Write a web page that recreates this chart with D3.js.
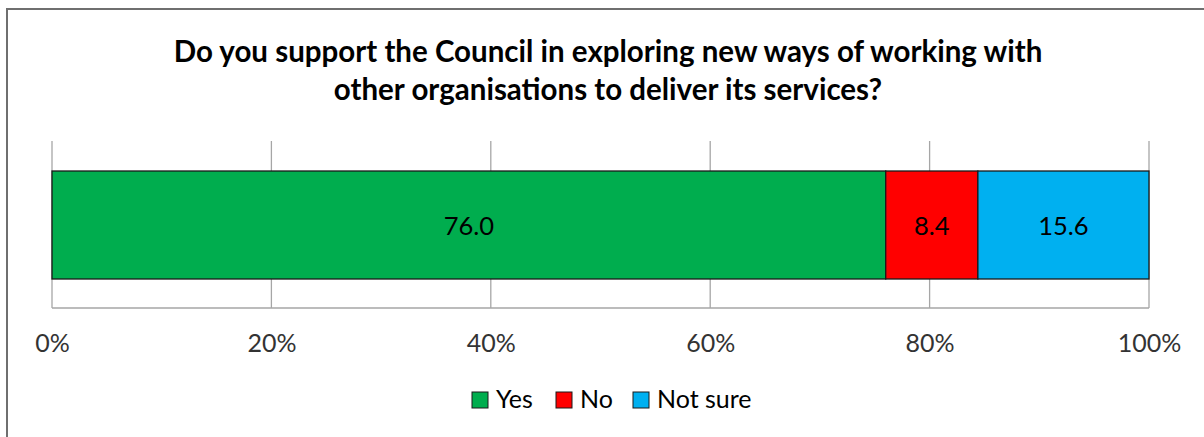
<!DOCTYPE html>
<html><head><meta charset="utf-8">
<script src="https://cdn.jsdelivr.net/npm/d3@7"></script>
<style>html,body{margin:0;padding:0;background:#fff;}svg{display:block;font-family:Lato,"Open Sans",sans-serif;}</style>
</head><body>
<svg id="c" width="1204" height="437"></svg>
<script>
const categories = ["Yes", "No", "Not sure"];
const values = [76.0, 8.4, 15.6];
const colors = ["#00AD4E", "#FF0000", "#00B0F0"];
const tickValues = [0, 20, 40, 60, 80, 100];
const titleLines = ["Do you support the Council in exploring new ways of working with", "other organisations to deliver its services?"];

const svg = d3.select("#c");
// chart border
svg.append("rect").attr("x", 7).attr("y", 9).attr("width", 1210).attr("height", 440)
  .attr("fill", "#fff").attr("stroke", "#6f6f6f").attr("stroke-width", 2);

svg.append("g").selectAll("text").data(titleLines).join("text")
  .attr("x", 608).attr("y", (d, i) => 62 + i * 38)
  .attr("text-anchor", "middle").attr("font-weight", "bold").attr("font-size", 29.5)
  .attr("fill", "#000").text(d => d);

const x = d3.scaleLinear().domain([0, 100]).range([52, 1149]);
const plotTop = 141, plotBottom = 308;

// gridlines
svg.append("g").selectAll("line").data(tickValues).join("line")
  .attr("x1", d => x(d)).attr("x2", d => x(d)).attr("y1", plotTop).attr("y2", plotBottom)
  .attr("stroke", "#a6a6a6").attr("stroke-width", 1.3);
svg.append("line").attr("x1", x(0)).attr("x2", x(100)).attr("y1", plotBottom).attr("y2", plotBottom)
  .attr("stroke", "#a6a6a6").attr("stroke-width", 1.3);

// stacked segments
let acc = 0;
const segs = values.map((v, i) => { const s = {cat: categories[i], v, x0: acc, x1: acc + v, color: colors[i]}; acc += v; return s; });
svg.append("g").selectAll("rect").data(segs).join("rect")
  .attr("x", d => x(d.x0)).attr("width", d => x(d.x1) - x(d.x0))
  .attr("y", 171).attr("height", 108)
  .attr("fill", d => d.color).attr("stroke", "#1a1a1a").attr("stroke-width", 1.3);
svg.append("g").selectAll("text").data(segs).join("text")
  .attr("x", d => (x(d.x0) + x(d.x1)) / 2).attr("y", 235)
  .attr("text-anchor", "middle").attr("font-size", 25.5).attr("fill", "#000")
  .text(d => d.v.toFixed(1));

// axis labels
const axis = d3.axisBottom(x).tickValues(tickValues).tickFormat(d => d + "%").tickSize(0).tickPadding(0);
const ag = svg.append("g").attr("transform", `translate(0,${plotBottom})`).call(axis);
ag.select(".domain").remove();
ag.selectAll("text").attr("y", 44).attr("dy", 0).attr("font-size", 25).attr("fill", "#333")
  .attr("font-family", "Lato,'Open Sans',sans-serif");

// legend
const legX = [472, 556, 633];
const lg = svg.append("g").selectAll("g").data(segs).join("g")
  .attr("transform", (d, i) => `translate(${legX[i]},392)`);
lg.append("rect").attr("width", 16).attr("height", 16).attr("fill", d => d.color)
  .attr("stroke", "#1a1a1a").attr("stroke-width", 1);
lg.append("text").attr("x", 24).attr("y", 15.5).attr("font-size", 25).attr("fill", "#000").text(d => d.cat);
</script>
</body></html>
